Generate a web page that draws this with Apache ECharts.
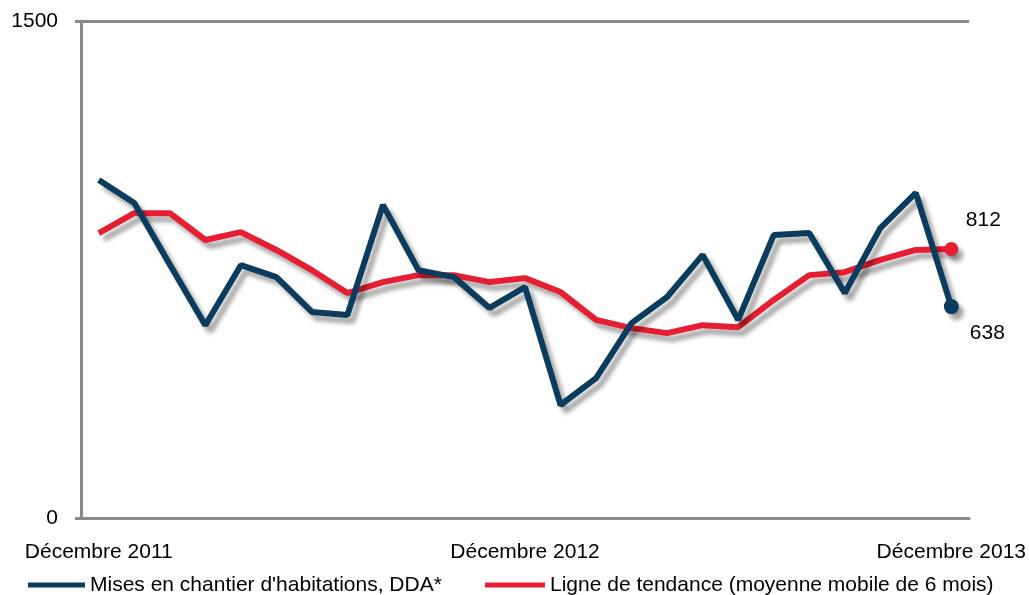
<!DOCTYPE html>
<html>
<head>
<meta charset="utf-8">
<script src="https://cdn.jsdelivr.net/npm/echarts@6/dist/echarts.min.js"></script>
<style>
  html, body { margin: 0; padding: 0; background: #fff; }
  #chart { width: 1029px; height: 595px; }
</style>
</head>
<body>
<div id="chart"></div>
<script>
// mois de décembre 2011 à décembre 2013
const months = [
  'Décembre 2011', 'Janvier 2012', 'Février 2012', 'Mars 2012', 'Avril 2012', 'Mai 2012',
  'Juin 2012', 'Juillet 2012', 'Août 2012', 'Septembre 2012', 'Octobre 2012', 'Novembre 2012',
  'Décembre 2012', 'Janvier 2013', 'Février 2013', 'Mars 2013', 'Avril 2013', 'Mai 2013',
  'Juin 2013', 'Juillet 2013', 'Août 2013', 'Septembre 2013', 'Octobre 2013', 'Novembre 2013',
  'Décembre 2013'
];
const mises = [1020, 951, 765, 582, 763, 727, 622, 613, 945, 748, 727, 634, 697,
  341, 422, 588, 667, 794, 598, 854, 860, 679, 875, 981, 638];
const tendance = [860, 920, 920, 839, 863, 809, 748, 679, 712, 733, 733, 712, 724,
  682, 598, 573, 558, 582, 576, 658, 733, 742, 779, 809, 812];
const yTicks = [0, 1500];
const nameMises = "Mises en chantier d'habitations, DDA*";
const nameTendance = 'Ligne de tendance (moyenne mobile de 6 mois)';

const font = 'Liberation Sans, Arial, sans-serif';
const fs = 21;
const last = months.length - 1;
const shadow = {
  shadowColor: 'rgba(0,0,0,0.35)',
  shadowBlur: 4,
  shadowOffsetX: 5,
  shadowOffsetY: 6
};

const chart = echarts.init(document.getElementById('chart'));
chart.setOption({
  animation: false,
  textStyle: { fontFamily: font },
  grid: { left: 81, right: 58, top: 21, bottom: 77 },
  legend: [
    {
      data: [nameMises], left: 28, top: 574, padding: 0,
      icon: 'rect', itemWidth: 57, itemHeight: 5, itemTextGap: 7,
      textStyle: { fontSize: fs, color: '#000', fontFamily: font, lineHeight: 22 }
    },
    {
      data: [nameTendance], left: 485, top: 574, padding: 0,
      icon: 'rect', itemWidth: 60, itemHeight: 5, itemTextGap: 7,
      textStyle: { fontSize: fs, color: '#000', fontFamily: font, lineHeight: 22 }
    }
  ],
  xAxis: {
    type: 'category',
    data: months,
    boundaryGap: true,
    axisLine: { lineStyle: { color: '#898989', width: 3 } },
    axisTick: { show: false },
    axisLabel: {
      interval: (i) => i % 12 === 0,
      fontSize: fs, color: '#000', margin: 24
    }
  },
  yAxis: {
    type: 'value',
    min: yTicks[0], max: yTicks[1], interval: yTicks[1] - yTicks[0],
    axisLine: { show: true, lineStyle: { color: '#898989', width: 3 } },
    axisTick: { show: true, length: 6, lineStyle: { color: '#898989', width: 3 } },
    splitLine: { show: true, lineStyle: { color: '#898989', width: 3 } },
    axisLabel: { fontSize: fs, color: '#000', margin: 23, formatter: (v) => String(v) }
  },
  series: [
    {
      name: nameTendance,
      type: 'line',
      data: tendance,
      color: '#e61e31',
      lineStyle: Object.assign({ width: 6, color: '#e61e31' }, shadow),
      showSymbol: true,
      symbol: 'circle',
      symbolSize: (v, p) => (p.dataIndex === last ? 14 : 0),
      itemStyle: Object.assign({ color: '#e61e31' }, shadow),
      label: {
        show: true,
        position: 'inside',
        offset: [32, -29],
        fontSize: fs, color: '#000',
        formatter: (p) => (p.dataIndex === last ? String(p.value) : '')
      },
      z: 2
    },
    {
      name: nameMises,
      type: 'line',
      data: mises,
      color: '#0b3c5d',
      lineStyle: Object.assign({ width: 6, color: '#0b3c5d' }, shadow),
      showSymbol: true,
      symbol: 'circle',
      symbolSize: (v, p) => (p.dataIndex === last ? 15 : 0),
      itemStyle: Object.assign({ color: '#0b3c5d' }, shadow),
      label: {
        show: true,
        position: 'inside',
        offset: [36, 27],
        fontSize: fs, color: '#000',
        formatter: (p) => (p.dataIndex === last ? String(p.value) : '')
      },
      z: 3
    }
  ]
});
</script>
</body>
</html>
